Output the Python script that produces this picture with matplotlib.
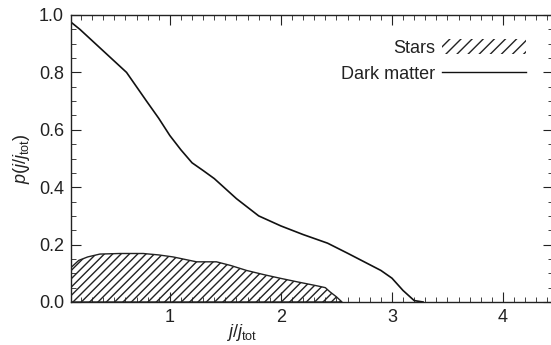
import matplotlib
matplotlib.use('Agg')
import matplotlib.pyplot as plt
from matplotlib.patches import Patch
from matplotlib.lines import Line2D
from matplotlib.ticker import MultipleLocator, FormatStrFormatter

plt.rcParams['font.family'] = ['Liberation Sans', 'DejaVu Sans']
plt.rcParams['mathtext.fontset'] = 'custom'
plt.rcParams['mathtext.rm'] = 'Liberation Sans'
plt.rcParams['mathtext.it'] = 'Liberation Sans:italic'
plt.rcParams['hatch.linewidth'] = 1.0

# dark matter distribution
dm_j = [0.11, 0.19, 0.40, 0.61, 0.79, 0.90, 1.00, 1.10, 1.20, 1.30, 1.40, 1.50, 1.60, 1.70, 1.80, 2.00, 2.20, 2.42, 2.60, 2.80, 2.90, 3.00, 3.10, 3.20, 3.28]
dm_p = [0.975, 0.95, 0.875, 0.80, 0.70, 0.64, 0.58, 0.53, 0.485, 0.458, 0.43, 0.395, 0.36, 0.33, 0.30, 0.265, 0.235, 0.205, 0.17, 0.13, 0.11, 0.083, 0.04, 0.005, 0.0]

# stellar distribution
st_j = [0.11, 0.18, 0.26, 0.37, 0.55, 0.76, 0.90, 1.03, 1.24, 1.42, 1.55, 1.69, 1.85, 1.99, 2.15, 2.33, 2.40, 2.44, 2.50, 2.55]
st_p = [0.12, 0.145, 0.157, 0.167, 0.169, 0.169, 0.164, 0.157, 0.14, 0.14, 0.127, 0.11, 0.095, 0.083, 0.07, 0.056, 0.05, 0.036, 0.018, 0.0]

fig = plt.figure(figsize=(5.51, 3.45), dpi=100)
# right spine sits just past the image edge, as in the original
ax = fig.add_axes([71 / 551, 43 / 345, 482 / 551, 287 / 345])

ax.fill_between(st_j, st_p, 0, facecolor='white', edgecolor='#222222',
                hatch='////', linewidth=1.0)
ax.plot(dm_j, dm_p, color='#111111', linewidth=1.2)

ax.set_xlim(0.11, 4.45)
ax.set_ylim(0.0, 1.0)
ax.xaxis.set_major_locator(MultipleLocator(1))
ax.xaxis.set_minor_locator(MultipleLocator(0.1))
ax.yaxis.set_major_locator(MultipleLocator(0.2))
ax.yaxis.set_minor_locator(MultipleLocator(0.05))
ax.yaxis.set_major_formatter(FormatStrFormatter('%.1f'))
ax.tick_params(which='both', direction='in', top=True, right=True,
               labelsize=13, color='#222222', labelcolor='#222222')
ax.tick_params(which='major', length=7, width=0.8, pad=5)
ax.tick_params(which='minor', length=3.5, width=0.6)
for s in ax.spines.values():
    s.set_linewidth(1.0)
    s.set_color('#222222')

ax.set_ylabel(r'$p(j/j_{\rm tot})$', fontsize=13, labelpad=5, color='#222222')
fig.text(242 / 551, 2 / 345, r'$j/j_{\rm tot}$', fontsize=13, ha='center',
         va='bottom', color='#222222')

star_patch = Patch(facecolor='white', edgecolor='#222222', hatch='///', linewidth=0)
star_patch.set_hatch_linewidth(2.0)
handles = [star_patch, Line2D([0], [0], color='#111111', linewidth=1.0)]
ax.legend(handles, ['Stars', 'Dark matter'], loc='upper right',
          bbox_to_anchor=(0.958, 0.94), frameon=False, markerfirst=False,
          handlelength=4.6, handleheight=0.9, handletextpad=0.4,
          labelspacing=0.45, fontsize=13, borderaxespad=0,
          labelcolor='#222222')

fig.savefig('out.png', dpi=100)
